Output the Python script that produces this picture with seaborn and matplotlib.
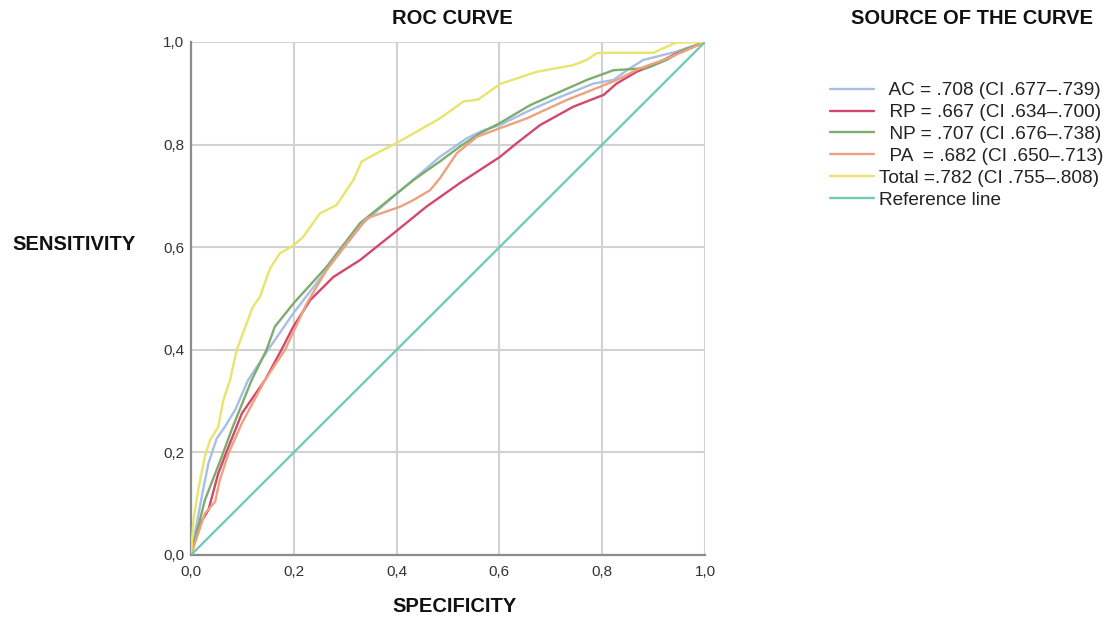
import matplotlib
matplotlib.use("Agg")
import matplotlib.pyplot as plt
import seaborn as sns
import pandas as pd
from matplotlib.ticker import FuncFormatter, MultipleLocator

# ---- data ----
ac_x = [0, 0.021, 0.034, 0.05, 0.066, 0.086, 0.111, 0.15, 0.199, 0.264, 0.335, 0.394, 0.44,
        0.484, 0.536, 0.569, 0.601, 0.653, 0.711, 0.783, 0.822, 0.848, 0.88, 0.94, 1.0]
ac_y = [0, 0.114, 0.179, 0.227, 0.25, 0.283, 0.341, 0.40, 0.471, 0.556, 0.647, 0.699, 0.738,
        0.776, 0.812, 0.828, 0.838, 0.864, 0.89, 0.919, 0.926, 0.945, 0.965, 0.98, 1.0]

rp_x = [0, 0.014, 0.034, 0.053, 0.073, 0.099, 0.144, 0.176, 0.199, 0.232, 0.277, 0.329, 0.394,
        0.458, 0.523, 0.601, 0.634, 0.679, 0.744, 0.803, 0.828, 0.867, 0.899, 0.945, 1.0]
rp_y = [0, 0.055, 0.088, 0.159, 0.211, 0.276, 0.341, 0.40, 0.445, 0.497, 0.542, 0.575, 0.627,
        0.679, 0.725, 0.776, 0.803, 0.838, 0.874, 0.897, 0.919, 0.942, 0.955, 0.978, 1.0]

np_x = [0, 0.027, 0.06, 0.079, 0.118, 0.147, 0.163, 0.199, 0.264, 0.329, 0.361, 0.433, 0.484,
        0.523, 0.562, 0.601, 0.66, 0.718, 0.77, 0.822, 0.887, 0.925, 0.96, 1.0]
np_y = [0, 0.107, 0.192, 0.244, 0.341, 0.40, 0.445, 0.49, 0.562, 0.647, 0.673, 0.731, 0.767,
        0.796, 0.822, 0.842, 0.877, 0.903, 0.926, 0.945, 0.949, 0.965, 0.985, 1.0]

pa_x = [0, 0.027, 0.047, 0.056, 0.073, 0.099, 0.144, 0.183, 0.225, 0.264, 0.303, 0.342, 0.361,
        0.407, 0.433, 0.465, 0.484, 0.517, 0.556, 0.601, 0.653, 0.731, 0.789, 0.828, 0.874,
        0.919, 0.96, 1.0]
pa_y = [0, 0.081, 0.104, 0.146, 0.198, 0.257, 0.341, 0.40, 0.49, 0.556, 0.608, 0.656, 0.663,
        0.679, 0.692, 0.711, 0.734, 0.783, 0.815, 0.832, 0.851, 0.887, 0.91, 0.926, 0.949,
        0.965, 0.982, 1.0]

tot_x = [0, 0.005, 0.014, 0.027, 0.037, 0.053, 0.063, 0.076, 0.089, 0.12, 0.134, 0.154, 0.173,
         0.199, 0.218, 0.251, 0.283, 0.316, 0.332, 0.361, 0.40, 0.484, 0.53, 0.559, 0.601,
         0.634, 0.673, 0.711, 0.744, 0.77, 0.789, 0.809, 0.9, 0.919, 0.945, 1.0]
tot_y = [0, 0.07, 0.127, 0.192, 0.224, 0.25, 0.302, 0.341, 0.40, 0.483, 0.503, 0.559, 0.588,
         0.603, 0.62, 0.666, 0.682, 0.731, 0.767, 0.783, 0.803, 0.851, 0.884, 0.888, 0.918,
         0.929, 0.942, 0.949, 0.955, 0.965, 0.978, 0.979, 0.979, 0.988, 0.999, 1.0]

ref_x = [0, 1]
ref_y = [0, 1]

labels = ["  AC = .708 (CI .677\u2013.739)",
          "  RP = .667 (CI .634\u2013.700)",
          "  NP = .707 (CI .676\u2013.738)",
          "  PA  = .682 (CI .650\u2013.713)",
          "Total =.782 (CI .755\u2013.808)",
          "Reference line"]
colors = ["#a6bfe6", "#d2486c", "#7eac6c", "#eca27f", "#e8e46c", "#74c9b7"]

xs = [ac_x, rp_x, np_x, pa_x, tot_x, ref_x]
ys = [ac_y, rp_y, np_y, pa_y, tot_y, ref_y]

rows = []
for lab, xv, yv in zip(labels, xs, ys):
    for i, (a, b) in enumerate(zip(xv, yv)):
        rows.append({"curve": lab, "order": i, "spec": a, "sens": b})
df = pd.DataFrame(rows)

sns.set_style("white")
plt.rcParams["font.family"] = ["Liberation Sans", "DejaVu Sans"]

fig = plt.figure(figsize=(11.12, 6.18), dpi=100)
ax = fig.add_axes([191 / 1112, 1 - 555 / 618, 514 / 1112, 513 / 618])

sns.lineplot(data=df, x="spec", y="sens", hue="curve", hue_order=labels,
             palette=dict(zip(labels, colors)), sort=False, estimator=None,
             linewidth=1.7, ax=ax, legend=True, zorder=3)

ax.set_xlim(0, 1)
ax.set_ylim(0, 1)
ax.xaxis.set_major_locator(MultipleLocator(0.2))
ax.yaxis.set_major_locator(MultipleLocator(0.2))
fmt = FuncFormatter(lambda v, p: f"{v:.1f}".replace(".", ","))
ax.xaxis.set_major_formatter(fmt)
ax.yaxis.set_major_formatter(fmt)
ax.grid(True, color="#d2d2d2", linewidth=1.5, zorder=0)
ax.set_axisbelow(True)
for s in ["top", "right"]:
    ax.spines[s].set_visible(False)
for s in ["left", "bottom"]:
    ax.spines[s].set_color("#8c8c8c")
    ax.spines[s].set_linewidth(1.6)
ax.tick_params(axis="both", length=0, labelsize=11, colors="#333333")
ax.tick_params(axis="y", pad=5)
ax.tick_params(axis="x", pad=7)
ax.set_xlabel("")
ax.set_ylabel("")

fig.text(452 / 1112, 1 - 18 / 618, "ROC CURVE", ha="center", va="center",
         fontsize=14.5, fontweight="bold", color="#111111")
fig.text(972 / 1112, 1 - 18 / 618, "SOURCE OF THE CURVE", ha="center", va="center",
         fontsize=14.5, fontweight="bold", color="#111111")
fig.text(74 / 1112, 1 - 245 / 618, "SENSITIVITY", ha="center", va="center",
         fontsize=14.5, fontweight="bold", color="#111111")
fig.text(455 / 1112, 1 - 606 / 618, "SPECIFICITY", ha="center", va="center",
         fontsize=14.5, fontweight="bold", color="#111111")

handles, labs = ax.get_legend_handles_labels()
ax.get_legend().remove()
leg = fig.legend(handles, labs, loc="upper left",
                 bbox_to_anchor=(830 / 1112, 1 - 82 / 618), frameon=False,
                 fontsize=13.7, handlelength=2.3, handletextpad=0.3,
                 labelspacing=0.24, borderpad=0, borderaxespad=0)
for t in leg.get_texts():
    t.set_color("#222222")

fig.savefig("out.png", dpi=100)
